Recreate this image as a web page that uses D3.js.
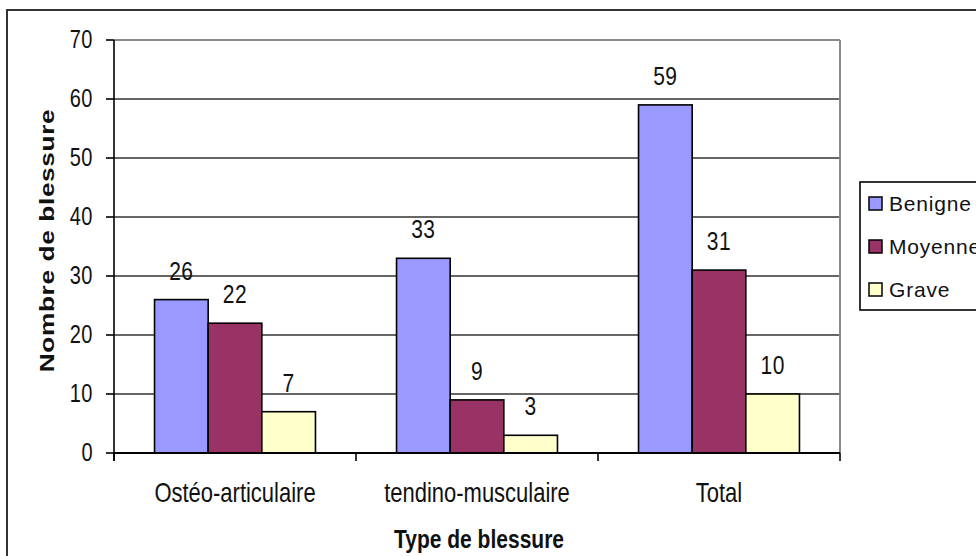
<!DOCTYPE html>
<html><head><meta charset="utf-8">
<script src="https://cdn.jsdelivr.net/npm/d3@7"></script>
<style>body{margin:0;background:#fff}svg{display:block}text{font-family:"Liberation Sans",Arial,sans-serif;fill:#111}</style>
</head><body>
<script>
const categories = ["Ostéo-articulaire", "tendino-musculaire", "Total"];
const seriesNames = ["Benigne", "Moyenne", "Grave"];
const benigne = [26, 33, 59];
const moyenne = [22, 9, 31];
const grave = [7, 3, 10];
const yTicks = [0, 10, 20, 30, 40, 50, 60, 70];
const colors = ["#9999FF", "#993366", "#FFFFCC"];
const xTitle = "Type de blessure";
const yTitle = "Nombre de blessure";

const W = 976, H = 556;
const svg = d3.select("body").append("svg").attr("width", W).attr("height", H);
const L = 114, R = 840, T = 40, B = 453;

// outer frame
svg.append("rect").attr("x", 7).attr("y", 10).attr("width", 1100).attr("height", 700)
  .attr("fill", "none").attr("stroke", "#333").attr("stroke-width", 2);

const y = d3.scaleLinear().domain([0, 70]).range([B, T]);
const x0 = d3.scaleBand().domain(categories).range([L, R]).paddingInner(0.335).paddingOuter(0.335/2);
const x1 = d3.scaleBand().domain(seriesNames).range([0, x0.bandwidth()]).padding(0);

function stext(g, x, yy, str, opts) {
  const t = g.append("g").attr("transform", `translate(${x},${yy}) scale(1,${opts.sy || 1})${opts.rot ? " rotate(" + opts.rot + ")" : ""}`)
    .append("text").attr("x", 0).attr("y", 0).text(str)
    .attr("font-size", opts.size).attr("text-anchor", opts.anchor || "middle");
  if (opts.bold) t.attr("font-weight", "bold");
  if (opts.ls) t.attr("letter-spacing", opts.ls);
  return t;
}

// gridlines
const grid = svg.append("g");
yTicks.filter(v => v > 0 && v < 70).forEach(v => {
  grid.append("line").attr("x1", L).attr("x2", R).attr("y1", y(v)).attr("y2", y(v))
    .attr("stroke", "#333").attr("stroke-width", 1.4);
});
// plot border top/right
svg.append("line").attr("x1", L).attr("x2", R).attr("y1", y(70)).attr("y2", y(70)).attr("stroke", "#8a8a8a").attr("stroke-width", 2);
svg.append("line").attr("x1", R).attr("x2", R).attr("y1", y(70)).attr("y2", B).attr("stroke", "#8a8a8a").attr("stroke-width", 2);

// bars
const data = [benigne, moyenne, grave];
const bars = svg.append("g");
categories.forEach((c, i) => {
  seriesNames.forEach((s, j) => {
    const v = data[j][i];
    const bx = x0(c) + x1(s);
    bars.append("rect").attr("x", bx).attr("y", y(v)).attr("width", x1.bandwidth()).attr("height", B - y(v))
      .attr("fill", colors[j]).attr("stroke", "#000").attr("stroke-width", 1.6);
    stext(svg, bx + x1.bandwidth() / 2, y(v) - 20, String(v), {size: 21, sy: 1.2, ls: 0.5});
  });
});

// y axis
const ax = svg.append("g");
ax.append("line").attr("x1", L).attr("x2", L).attr("y1", T).attr("y2", B + 8).attr("stroke", "#000").attr("stroke-width", 1.6);
yTicks.forEach(v => {
  ax.append("line").attr("x1", L - 8).attr("x2", L).attr("y1", y(v)).attr("y2", y(v)).attr("stroke", "#000").attr("stroke-width", 1.6);
  stext(ax, 93, y(v) + 7.5, String(v), {size: 20, sy: 1.25, anchor: "end", ls: 0.5});
});
// x axis
ax.append("line").attr("x1", L).attr("x2", R).attr("y1", B).attr("y2", B).attr("stroke", "#000").attr("stroke-width", 1.8);
const edges = categories.map(c => x0(c) - x0.step() * 0.335 / 2).concat([R]);
edges.forEach(e => {
  ax.append("line").attr("x1", e).attr("x2", e).attr("y1", B).attr("y2", B + 8).attr("stroke", "#000").attr("stroke-width", 1.6);
});
categories.forEach(c => {
  stext(ax, x0(c) + x0.bandwidth() / 2, 502, c, {size: 22, sy: 1.22});
});

// titles
stext(svg, (L + R) / 2 + 2, 548, xTitle, {size: 21, sy: 1.25, bold: true});
stext(svg, 54, (T + B) / 2 - 6, yTitle, {size: 21, sy: 1.25, bold: true, rot: -90, ls: 0.5});

// legend
const lg = svg.append("g");
lg.append("rect").attr("x", 860).attr("y", 182).attr("width", 200).attr("height", 128)
  .attr("fill", "#fff").attr("stroke", "#000").attr("stroke-width", 1.6);
seriesNames.forEach((s, j) => {
  const yy = 197 + j * 43;
  lg.append("rect").attr("x", 869).attr("y", yy).attr("width", 13).attr("height", 13)
    .attr("fill", colors[j]).attr("stroke", "#000").attr("stroke-width", 1.5);
  stext(lg, 889, yy + 14, s, {size: 21, anchor: "start", ls: 0.8});
});
</script>
</body></html>
